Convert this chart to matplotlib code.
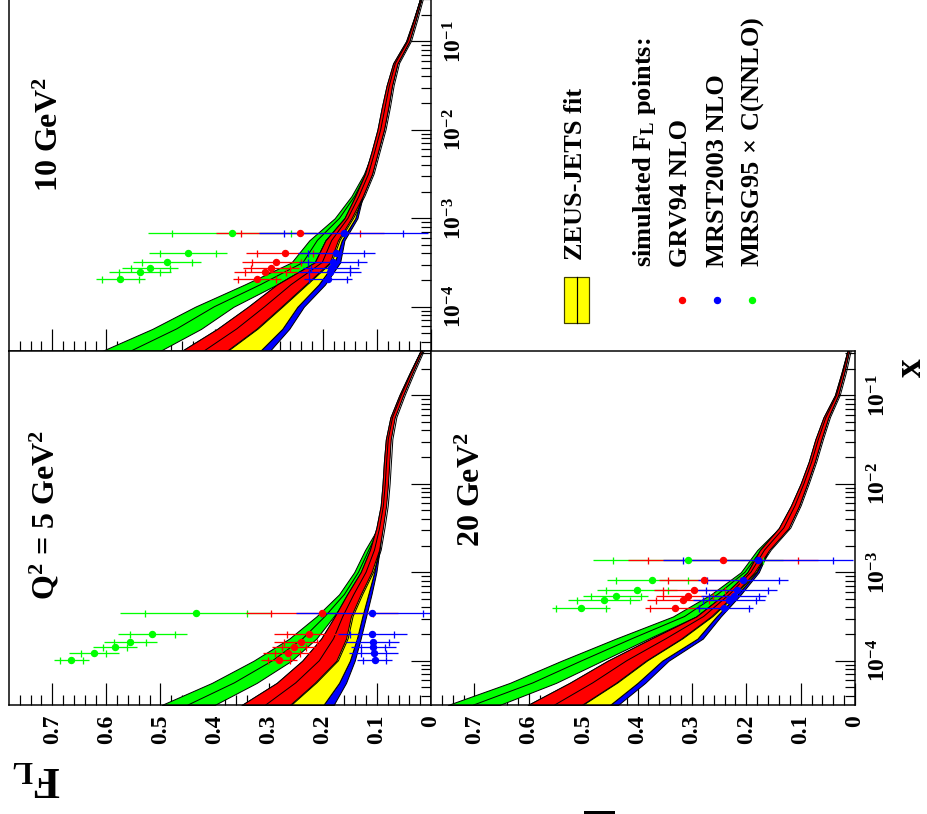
import numpy as np
import matplotlib
matplotlib.use("Agg")
import matplotlib.pyplot as plt
from matplotlib.patches import Rectangle
from matplotlib.lines import Line2D
from matplotlib.ticker import FixedLocator, FixedFormatter, NullFormatter

W, H = 928, 814

# ---- fit bands: F_L edges at log10(x) ----
LX = [-4.5, -4.25, -4.0, -3.75, -3.5, -3.25, -3.0, -2.75, -2.5,
      -2.25, -2.0, -1.75, -1.5, -1.25, -1.0, -0.75, -0.5]

Q5_G_LO = [.400, .322, .258, .212, .180, .150, .126, .108, .092, .085, .081, .079, .076, .069, .053, .036, .017]
Q5_G_HI = [.498, .405, .328, .262, .212, .170, .142, .122, .098, .091, .088, .085, .082, .073, .057, .038, .019]
Q5_R_LO = [.261, .215, .175, .157, .148, .130, .110, .096, .089, .083, .0795, .077, .0745, .067, .0515, .0345, .0165]
Q5_R_HI = [.350, .285, .238, .203, .178, .155, .130, .113, .101, .093, .0895, .087, .0835, .075, .0585, .0395, .0195]
Q5_Y_LO = [.199, .170, .150, .137, .127, .116, .105, .097, .091, .085, .081, .079, .076, .069, .053, .036, .017]
Q5_B_LO = [.180, .157, .141, .130, .120, .110, .101, .095, .090, .084, .080, .078, .075, .068, .052, .035, .017]

Q10_G_LO = [.501, .425, .365, .285, .215, .195, .160, .135, .116, .101, .090, .081, .073, .063, .041, .029, .017]
Q10_G_HI = [.608, .515, .436, .345, .258, .225, .178, .147, .124, .108, .097, .088, .080, .068, .045, .031, .019]
Q10_R_LO = [.378, .323, .277, .232, .187, .172, .147, .126, .109, .098, .087, .079, .072, .062, .040, .028, .017]
Q10_R_HI = [.461, .395, .338, .285, .215, .195, .160, .140, .122, .110, .099, .091, .082, .070, .046, .032, .019]
Q10_Y_LO = [.316, .275, .247, .208, .178, .165, .140, .128, .110, .099, .088, .080, .073, .063, .041, .029, .017]
Q10_B_LO = [.298, .262, .235, .196, .168, .160, .136, .126, .109, .098, .087, .079, .072, .062, .040, .028, .017]

Q20_G_LO = [.654, .550, .465, .380, .292, .240, .195, .165, .125, .105, .089, .075, .063, .050, .032, .021, .012]
Q20_G_HI = [.749, .635, .540, .440, .335, .265, .210, .180, .139, .117, .099, .084, .072, .057, .036, .024, .013]
Q20_R_LO = [.503, .440, .385, .320, .265, .222, .185, .158, .122, .103, .088, .074, .062, .049, .031, .020, .011]
Q20_R_HI = [.602, .525, .455, .375, .292, .240, .198, .175, .140, .118, .100, .085, .073, .058, .037, .025, .014]
Q20_Y_LO = [.451, .400, .355, .290, .255, .216, .181, .161, .124, .104, .089, .075, .063, .050, .032, .021, .012]
Q20_B_LO = [.436, .386, .343, .280, .247, .210, .177, .159, .123, .103, .088, .074, .062, .049, .031, .020, .011]

# ---- simulated F_L points ----
Q5_X = [3.46e-4, 2.02e-4, 1.63e-4, 1.43e-4, 1.22e-4, 1.01e-4]
Q5_GRV = [0.2015, 0.226, 0.241, 0.253, 0.265, 0.281]
Q5_MRST = [0.1085, 0.1085, 0.1074, 0.1066, 0.1061, 0.1042]
Q5_MRSG = [0.4345, 0.515, 0.556, 0.5845, 0.623, 0.6646]
Q5_STAT = [0.094, 0.041, 0.030, 0.022, 0.023, 0.021]
Q5_TOT = [0.141, 0.064, 0.049, 0.041, 0.046, 0.033]

Q10_X = [6.89e-4, 4.09e-4, 3.18e-4, 2.72e-4, 2.44e-4, 2.04e-4]
Q10_GRV = [0.242, 0.2697, 0.2856, 0.296, 0.306, 0.321]
Q10_MRST = [0.1614, 0.175, 0.181, 0.1854, 0.1873, 0.1904]
Q10_MRSG = [0.368, 0.449, 0.4886, 0.519, 0.538, 0.574]
Q10_STAT = [0.110, 0.052, 0.046, 0.036, 0.038, 0.035]
Q10_TOT = [0.156, 0.0716, 0.063, 0.052, 0.058, 0.0446]

Q20_X = [1.36e-3, 8.07e-4, 6.34e-4, 5.42e-4, 4.80e-4, 3.94e-4]
Q20_GRV = [0.2425, 0.2775, 0.296, 0.307, 0.3173, 0.332]
Q20_MRST = [0.179, 0.2057, 0.2173, 0.2234, 0.2315, 0.2407]
Q20_MRSG = [0.307, 0.3726, 0.4015, 0.440, 0.4622, 0.504]
Q20_STAT = [0.138, 0.0663, 0.0568, 0.046, 0.0485, 0.0457]
Q20_TOT = [0.175, 0.083, 0.0737, 0.060, 0.066, 0.0537]

FL_TICKS = [0, 0.1, 0.2, 0.3, 0.4, 0.5, 0.6, 0.7]
FL_LABELS = ["0", "0.1", "0.2", "0.3", "0.4", "0.5", "0.6", "0.7"]
X_TICKS = [1e-4, 1e-3, 1e-2, 1e-1]
X_LABELS = [r"$10^{-4}$", r"$10^{-3}$", r"$10^{-2}$", r"$10^{-1}$"]

plt.rcParams['font.family'] = ['Liberation Serif', 'DejaVu Serif']
plt.rcParams['font.weight'] = 'bold'
plt.rcParams['mathtext.fontset'] = 'custom'
plt.rcParams['mathtext.rm'] = 'Liberation Serif:bold'
plt.rcParams['mathtext.it'] = 'Liberation Serif:bold'
plt.rcParams['mathtext.bf'] = 'Liberation Serif:bold'

PT = 72 / 100.0   # points per pixel at dpi 100

fig = plt.figure(figsize=(W / 100, H / 100), dpi=100)


def add_ax(x0, x1, y0, y1):
    return fig.add_axes([x0 / W, 1 - y1 / H, (x1 - x0) / W, (y1 - y0) / H])


def style(ax, fl_labels, x_labels):
    ax.set_yscale('log')
    ax.set_xlim(0.78, 0)
    ax.set_ylim(10 ** -4.5, 10 ** -0.5)
    for sp in ax.spines.values():
        sp.set_linewidth(1.5 * PT)
    ax.xaxis.set_major_locator(FixedLocator(FL_TICKS))
    ax.xaxis.set_minor_locator(FixedLocator(np.arange(0, 0.78, 0.02)))
    ax.yaxis.set_major_locator(FixedLocator(X_TICKS))
    minor = [m * 10.0 ** e for e in range(-5, 0) for m in range(2, 10)]
    ax.yaxis.set_minor_locator(FixedLocator(minor))
    ax.yaxis.set_minor_formatter(NullFormatter())
    ax.xaxis.set_minor_formatter(NullFormatter())
    if fl_labels:
        ax.xaxis.set_major_formatter(FixedFormatter(FL_LABELS))
    else:
        ax.xaxis.set_major_formatter(NullFormatter())
    if x_labels:
        ax.yaxis.set_major_formatter(FixedFormatter(X_LABELS))
    else:
        ax.yaxis.set_major_formatter(NullFormatter())
    ax.tick_params(axis='x', which='both', direction='in', bottom=True, top=False,
                   labelbottom=fl_labels, labelsize=17, pad=10 * PT, labelrotation=90)
    ax.tick_params(axis='x', which='major', length=22 * PT, width=1.2 * PT)
    ax.tick_params(axis='x', which='minor', length=10 * PT, width=1.2 * PT)
    ax.tick_params(axis='y', which='both', direction='in', left=False, right=True,
                   labelleft=False, labelright=x_labels, labelsize=17, pad=12 * PT,
                   labelrotation=90)
    ax.tick_params(axis='y', which='major', length=20 * PT, width=1.2 * PT)
    ax.tick_params(axis='y', which='minor', length=10 * PT, width=1.2 * PT)
    for lab in ax.get_yticklabels():
        lab.set_va('center')


def bands(ax, g_lo, g_hi, r_lo, r_hi, y_lo, b_lo):
    xv = 10 ** np.array(LX)
    g_lo, g_hi, r_lo, r_hi = map(np.array, (g_lo, g_hi, r_lo, r_hi))
    y_lo, b_lo = np.array(y_lo), np.array(b_lo)
    lw = 1.0 * PT
    ax.fill_betweenx(xv, g_lo, g_hi, facecolor='#00ff00', edgecolor='black', lw=lw, zorder=2)
    ax.plot((g_lo + g_hi) / 2, xv, color='black', lw=lw, zorder=2)
    ax.fill_betweenx(xv, b_lo, y_lo, facecolor='#0000ff', edgecolor='black', lw=lw, zorder=2)
    ax.fill_betweenx(xv, y_lo, r_hi, facecolor='#ffff00', edgecolor='black', lw=lw, zorder=2)
    ax.plot(r_lo - 0.004, xv, color='black', lw=lw, zorder=2)
    ax.fill_betweenx(xv, r_lo, r_hi, facecolor='#ff0000', edgecolor='black', lw=lw, zorder=2)
    ax.plot((r_lo + r_hi) / 2, xv, color='black', lw=lw, zorder=2)


def points(ax, xs, vals, stat, tot, color):
    vals, stat, tot = np.array(vals), np.array(stat), np.array(tot)
    ax.errorbar(vals, xs, xerr=tot, fmt='o', ms=6 * PT, color=color, mec=color,
                elinewidth=1.3 * PT, capsize=0, zorder=3, clip_on=True)
    ax.plot(vals - stat, xs, '|', ms=7 * PT, mew=1.3 * PT, color=color, zorder=3)
    ax.plot(vals + stat, xs, '|', ms=7 * PT, mew=1.3 * PT, color=color, zorder=3)


ax10 = add_ax(9, 431, -3, 351)
ax5 = add_ax(9, 431, 351, 705)
ax20 = add_ax(431, 855, 351, 705)

style(ax10, False, True)
style(ax5, True, False)
style(ax20, True, True)

bands(ax5, Q5_G_LO, Q5_G_HI, Q5_R_LO, Q5_R_HI, Q5_Y_LO, Q5_B_LO)
bands(ax10, Q10_G_LO, Q10_G_HI, Q10_R_LO, Q10_R_HI, Q10_Y_LO, Q10_B_LO)
bands(ax20, Q20_G_LO, Q20_G_HI, Q20_R_LO, Q20_R_HI, Q20_Y_LO, Q20_B_LO)

for ax, xs, grv, mrst, mrsg, st, tt in [
        (ax5, Q5_X, Q5_GRV, Q5_MRST, Q5_MRSG, Q5_STAT, Q5_TOT),
        (ax10, Q10_X, Q10_GRV, Q10_MRST, Q10_MRSG, Q10_STAT, Q10_TOT),
        (ax20, Q20_X, Q20_GRV, Q20_MRST, Q20_MRSG, Q20_STAT, Q20_TOT)]:
    points(ax, xs, mrsg, st, tt, '#00ff00')
    points(ax, xs, grv, st, tt, '#ff0000')
    points(ax, xs, mrst, st, tt, '#0000ff')


def fx(px):
    return px / W


def fy(py):
    return 1 - py / H


# panel labels
fig.text(fx(45), fy(515), r"Q$^{2}$ = 5 GeV$^{2}$", rotation=90, ha='center', va='center',
         fontsize=23, fontweight='bold')
fig.text(fx(50), fy(135), r"10 GeV$^{2}$", rotation=90, ha='center', va='center',
         fontsize=23, fontweight='bold')
fig.text(fx(472), fy(490), r"20 GeV$^{2}$", rotation=90, ha='center', va='center',
         fontsize=23, fontweight='bold')

# axis titles
fig.text(fx(911), fy(368), "x", rotation=90, ha='center', va='center',
         fontsize=27, fontweight='bold')
fig.text(fx(37), fy(778), r"F$_{\mathregular{L}}$", rotation=180, ha='center', va='center',
         fontsize=32, fontweight='bold')

# legend
fig.add_artist(Rectangle((fx(564), fy(323)), 25 / W, 46 / H, transform=fig.transFigure,
                         facecolor='#ffff00', edgecolor='#404000', lw=1.2 * PT))
fig.add_artist(Line2D([fx(577), fx(577)], [fy(323), fy(277)], transform=fig.transFigure,
                      color='black', lw=1.2 * PT))
leg_text = [(576, 260, "ZEUS-JETS fit"),
            (645, 267, r"simulated F$_{\mathregular{L}}$ points:"),
            (681, 267, "GRV94 NLO"),
            (717, 267, "MRST2003 NLO"),
            (753, 267, r"MRSG95$\,\times\,$C(NNLO)")]
for px, py, s in leg_text:
    fig.text(fx(px), fy(py), s, rotation=90, ha='center', va='bottom',
             fontsize=19, fontweight='bold')
for px, c in [(682, '#ff0000'), (717, '#0000ff'), (752, '#00ff00')]:
    fig.add_artist(Line2D([fx(px)], [fy(300)], transform=fig.transFigure, marker='o',
                          ms=6 * PT, color=c, ls='none'))

fig.add_artist(Rectangle((fx(584), 0), 31 / W, 3 / H, transform=fig.transFigure,
                         facecolor='black', edgecolor='none'))

fig.savefig("out.png", dpi=100)
